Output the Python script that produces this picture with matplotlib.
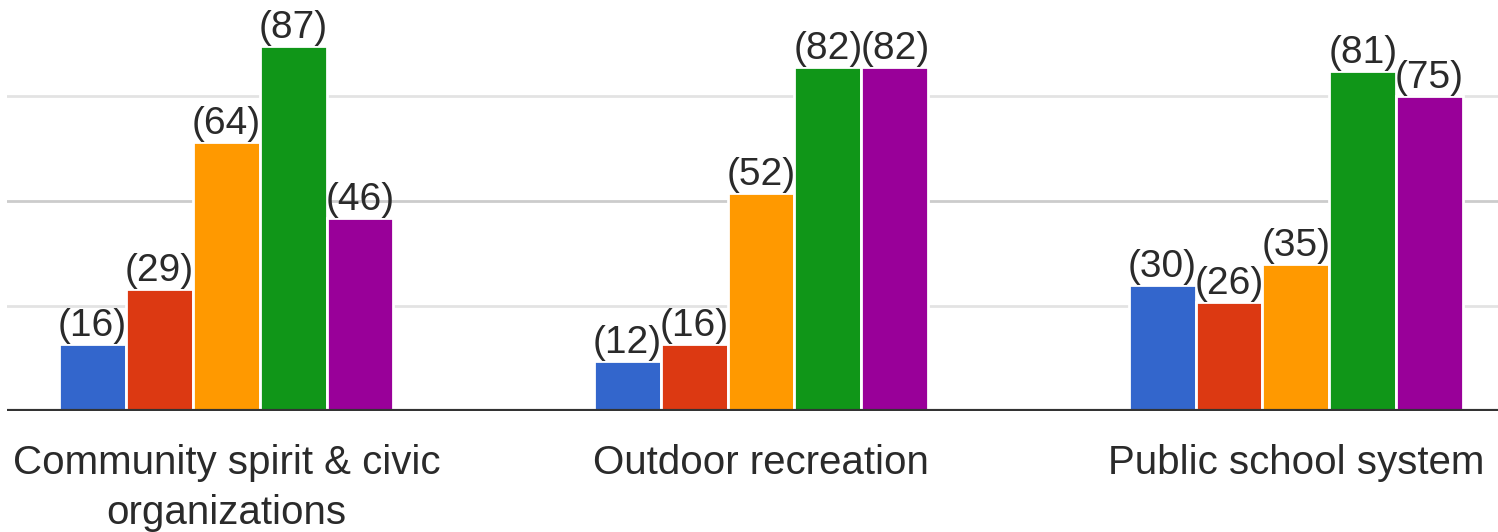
import numpy as np
import matplotlib.pyplot as plt

# 各类别及五组评分人数
categories = ['Community spirit & civic\norganizations', 'Outdoor recreation', 'Public school system']
series = [
    [16, 12, 30],
    [29, 16, 26],
    [64, 52, 35],
    [87, 82, 81],
    [46, 82, 75],
]
colors = ['#3366cc', '#dc3912', '#ff9900', '#109618', '#990099']
gridvals = [25, 50, 75]

plt.rcParams['font.family'] = ['Liberation Sans', 'DejaVu Sans']

fig = plt.figure(figsize=(14.98, 5.32), dpi=100)
ax = fig.add_axes([7 / 1498, 121 / 532, 1491 / 1498, 411 / 532])

x = np.arange(len(categories))
w = 0.125
for i, (vals, c) in enumerate(zip(series, colors)):
    pos = x + (i - 2) * w
    bars = ax.bar(pos, vals, width=w, color=c, edgecolor='white', linewidth=2, zorder=3)
    for b, v in zip(bars, vals):
        ax.annotate('({})'.format(v), (b.get_x() + b.get_width() / 2, v),
                    xytext=(0, 0), textcoords='offset points',
                    ha='center', va='bottom', fontsize=28, color='#2a2a2a')

# 网格线
for g in gridvals:
    ax.axhline(g, color='#cccccc' if g == 50 else '#e3e3e3', linewidth=2, zorder=1)
ax.axhline(0, color='#333333', linewidth=3, zorder=4)

ax.set_xlim(-0.41, 2.378)
ax.set_ylim(0, 97.9)
ax.set_xticks(x)
ax.set_xticklabels(categories, fontsize=29, color='#2a2a2a', linespacing=1.4)
ax.tick_params(axis='x', length=0, pad=24)
ax.set_yticks([])
for s in ax.spines.values():
    s.set_visible(False)

fig.savefig('out.png', dpi=100)
